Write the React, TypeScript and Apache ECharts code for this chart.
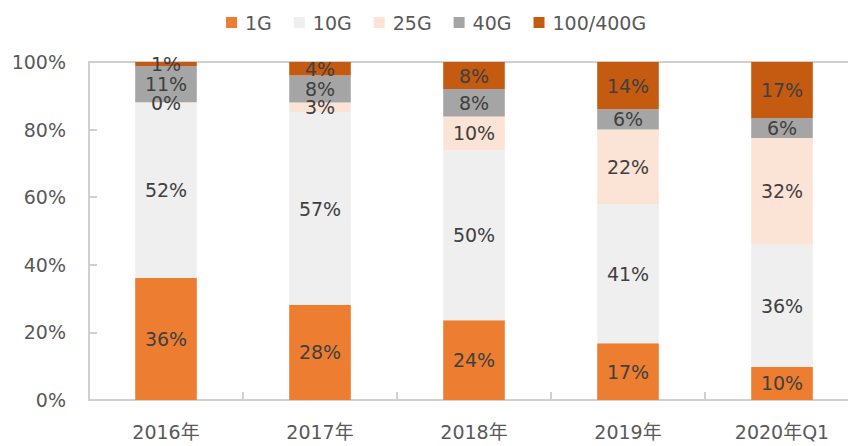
import React, { useEffect, useRef } from "react";
import * as echarts from "echarts";

const categories = ["2016年", "2017年", "2018年", "2019年", "2020年Q1"];
const seriesNames = ["1G", "10G", "25G", "40G", "100/400G"];
const v1G = [36.1, 28.2, 23.6, 16.8, 9.8];
const v10G = [51.8, 56.9, 50.2, 41.2, 36.1];
const v25G = [0.2, 2.9, 10.1, 22.0, 31.6];
const v40G = [10.7, 8.0, 8.1, 6.0, 5.9];
const v100G = [1.2, 4.0, 8.0, 14.0, 16.6];
const colors = ["#ED7D31", "#EFEFEF", "#FBE4D5", "#A5A5A5", "#C55A11"];
const yTicks = [0, 20, 40, 60, 80, 100];

const FONT = "'DejaVu Sans', 'Noto Sans CJK SC', sans-serif";

export default function App() {
  const ref = useRef<HTMLDivElement>(null);
  useEffect(() => {
    if (!ref.current) return;
    const chart = echarts.init(ref.current, null, { renderer: "svg" });
    const values = [v1G, v10G, v25G, v40G, v100G];
    chart.setOption({
      animation: false,
      textStyle: { fontFamily: FONT },
      legend: {
        data: seriesNames,
        top: 8,
        left: 221,
        itemWidth: 11,
        itemHeight: 11,
        itemGap: 22,
        icon: "rect",
        textStyle: { fontSize: 19, color: "#595959", fontFamily: FONT, padding: [0, 0, 0, 3] },
      },
      grid: {
        left: 89,
        right: 11,
        top: 62,
        bottom: 46,
        containLabel: false,
        show: true,
        borderColor: "#D0D0D0",
        borderWidth: 2,
      },
      xAxis: {
        type: "category",
        data: categories,
        axisLine: { lineStyle: { color: "#D0D0D0", width: 2 } },
        axisTick: { show: true, inside: true, length: 8, lineStyle: { color: "#D0D0D0", width: 2 } },
        axisLabel: { fontSize: 19, color: "#595959", margin: 22, fontFamily: FONT },
      },
      yAxis: {
        type: "value",
        min: 0,
        max: 100,
        interval: 20,
        axisLine: { show: true, lineStyle: { color: "#D0D0D0", width: 2 } },
        axisTick: { show: true, inside: true, length: 8, lineStyle: { color: "#D0D0D0", width: 2 } },
        splitLine: { show: false },
        axisLabel: {
          fontSize: 19,
          color: "#595959",
          margin: 23,
          fontFamily: FONT,
          formatter: (v: number) => (yTicks.includes(v) ? v + "%" : ""),
        },
      },
      series: seriesNames.map((name, i) => ({
        name,
        type: "bar",
        stack: "total",
        barWidth: "40%",
        data: values[i],
        itemStyle: { color: colors[i] },
        label: {
          show: true,
          position: "inside",
          fontSize: 19,
          color: "#404040",
          fontFamily: FONT,
          formatter: (p: any) => Math.round(p.value) + "%",
        },
      })),
    });
    return () => chart.dispose();
  }, []);
  return (
    <div style={{ position: "absolute", left: 0, top: 0, width: 848, height: 446, overflow: "hidden" }}>
      <div ref={ref} style={{ width: 870, height: 446 }} />
    </div>
  );
}
